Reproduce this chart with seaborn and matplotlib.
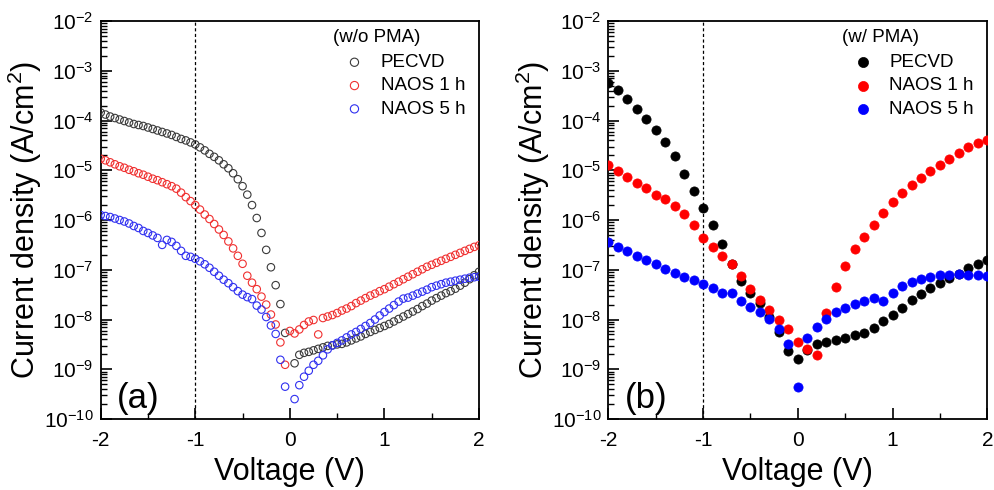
import numpy as np
import pandas as pd
import matplotlib
matplotlib.use("Agg")
import matplotlib.pyplot as plt
from matplotlib.ticker import LogLocator, LogFormatterSciNotation, MultipleLocator, NullFormatter
import seaborn as sns

# ---- data (a): w/o PMA, log10 of current density ----
v_a = [-2.00, -1.95, -1.90, -1.85, -1.80, -1.75, -1.70, -1.65, -1.60, -1.55,
       -1.50, -1.45, -1.40, -1.35, -1.30, -1.25, -1.20, -1.15, -1.10, -1.05,
       -1.00, -0.95, -0.90, -0.85, -0.80, -0.75, -0.70, -0.65, -0.60, -0.55,
       -0.50, -0.45, -0.40, -0.35, -0.30, -0.25, -0.20, -0.15, -0.10, -0.05,
       0.00, 0.05, 0.10, 0.15, 0.20, 0.25, 0.30, 0.35, 0.40, 0.45,
       0.50, 0.55, 0.60, 0.65, 0.70, 0.75, 0.80, 0.85, 0.90, 0.95,
       1.00, 1.05, 1.10, 1.15, 1.20, 1.25, 1.30, 1.35, 1.40, 1.45,
       1.50, 1.55, 1.60, 1.65, 1.70, 1.75, 1.80, 1.85, 1.90, 1.95, 2.00]

pecvd_a = [-3.84, -3.88, -3.92, -3.95, -3.98, -4.01, -4.04, -4.07, -4.09, -4.11,
           -4.14, -4.17, -4.20, -4.23, -4.26, -4.29, -4.33, -4.37, -4.40, -4.44,
           -4.48, -4.54, -4.60, -4.67, -4.73, -4.80, -4.88, -4.96, -5.06, -5.18,
           -5.32, -5.49, -5.70, -5.96, -6.26, -6.60, -6.95, -7.31, -7.69, -8.27,
           np.nan, -8.88, -8.71, -8.67, -8.65, -8.62, -8.59, -8.56, -8.53, -8.52,
           -8.50, -8.49, -8.46, -8.42, -8.38, -8.34, -8.29, -8.25, -8.21, -8.17,
           -8.13, -8.09, -8.04, -7.99, -7.94, -7.89, -7.84, -7.79, -7.73, -7.68,
           -7.62, -7.57, -7.52, -7.47, -7.43, -7.38, -7.32, -7.26, -7.19, -7.11, -7.04]

naos1_a = [-4.77, -4.80, -4.84, -4.88, -4.92, -4.95, -4.99, -5.02, -5.06, -5.09,
           -5.13, -5.17, -5.20, -5.24, -5.28, -5.32, -5.37, -5.45, -5.54, -5.62,
           -5.70, -5.79, -5.89, -5.98, -6.08, -6.19, -6.30, -6.43, -6.57, -6.72,
           -6.88, -7.12, -7.26, -7.39, -7.54, -7.70, -7.90, -8.10, -8.46, -8.91,
           -8.23, -8.28, -8.20, -8.11, -8.04, -8.01, -8.30, -7.97, -7.94, -7.91,
           -7.87, -7.82, -7.78, -7.73, -7.67, -7.62, -7.57, -7.52, -7.48, -7.43,
           -7.39, -7.34, -7.29, -7.24, -7.19, -7.14, -7.09, -7.04, -6.99, -6.94,
           -6.90, -6.86, -6.82, -6.78, -6.74, -6.70, -6.66, -6.62, -6.58, -6.54, -6.51]

naos5_a = [-5.90, -5.92, -5.94, -5.97, -6.00, -6.03, -6.07, -6.12, -6.16, -6.22,
           -6.26, -6.31, -6.36, -6.50, -6.40, -6.44, -6.52, -6.62, -6.72, -6.74,
           -6.78, -6.83, -6.89, -6.96, -7.04, -7.12, -7.20, -7.27, -7.35, -7.43,
           -7.50, -7.55, -7.59, -7.72, -7.80, -7.95, -8.12, -8.29, -8.81, -9.35,
           np.nan, -9.60, -9.32, -9.15, -9.03, -8.91, -8.83, -8.72, -8.60, -8.52,
           -8.47, -8.42, -8.36, -8.30, -8.25, -8.19, -8.13, -8.07, -8.00, -7.92,
           -7.85, -7.78, -7.71, -7.64, -7.58, -7.56, -7.52, -7.48, -7.44, -7.40,
           -7.35, -7.32, -7.29, -7.26, -7.24, -7.22, -7.20, -7.18, -7.16, -7.15, -7.14]

# ---- data (b): w/ PMA ----
v_b = [-2.0, -1.9, -1.8, -1.7, -1.6, -1.5, -1.4, -1.3, -1.2, -1.1,
       -1.0, -0.9, -0.8, -0.7, -0.6, -0.5, -0.4, -0.3, -0.2, -0.1,
       0.0, 0.1, 0.2, 0.3, 0.4, 0.5, 0.6, 0.7, 0.8, 0.9,
       1.0, 1.1, 1.2, 1.3, 1.4, 1.5, 1.6, 1.7, 1.8, 1.9, 2.0]

pecvd_b = [-3.25, -3.39, -3.57, -3.76, -3.97, -4.19, -4.44, -4.72, -5.08, -5.42,
           -5.76, -6.11, -6.48, -6.88, -7.23, -7.47, -7.66, -7.95, -8.25, -8.64,
           -8.80, -8.62, -8.49, -8.45, -8.41, -8.38, -8.32, -8.27, -8.17, -8.04,
           -7.91, -7.76, -7.61, -7.48, -7.36, -7.26, -7.17, -7.08, -6.96, -6.88, -6.81]

naos1_b = [-4.90, -5.01, -5.14, -5.25, -5.36, -5.49, -5.58, -5.71, -5.87, -6.11,
           -6.36, -6.55, -6.72, -6.89, -7.13, -7.39, -7.60, -7.81, -8.00, -8.20,
           -8.45, -8.60, -8.71, -7.86, -7.35, -6.92, -6.59, -6.35, -6.10, -5.85,
           -5.64, -5.45, -5.29, -5.15, -5.02, -4.90, -4.78, -4.66, -4.54, -4.46, -4.39]

naos5_b = [-6.45, -6.54, -6.63, -6.72, -6.80, -6.88, -6.98, -7.06, -7.14, -7.21,
           -7.29, -7.37, -7.46, -7.46, -7.62, -7.74, -7.85, -7.98, -8.19, -8.49,
           -9.36, -8.38, -8.15, -7.98, -7.85, -7.76, -7.68, -7.62, -7.57, -7.63,
           -7.46, -7.32, -7.24, -7.19, -7.14, -7.11, -7.11, -7.08, -7.11, -7.11, -7.13]

samples = ["PECVD", "NAOS 1 h", "NAOS 5 h"]
colors_a = ["#3a3a3a", "#f03030", "#3030f0"]
colors_b = ["#000000", "#ff0000", "#0000ff"]


def make_df(v, series):
    rows = []
    for name, logj in zip(samples, series):
        rows.append(pd.DataFrame({"V": v, "J": 10.0 ** np.array(logj, dtype=float), "sample": name}))
    return pd.concat(rows, ignore_index=True)


df_a = make_df(v_a, [pecvd_a, naos1_a, naos5_a])
df_b = make_df(v_b, [pecvd_b, naos1_b, naos5_b])

sns.set_style("ticks")
plt.rcParams['font.family'] = ['Liberation Sans', 'DejaVu Sans']
plt.rcParams['mathtext.fontset'] = 'custom'
plt.rcParams['mathtext.rm'] = 'Liberation Sans'
plt.rcParams['mathtext.it'] = 'Liberation Sans:italic'
plt.rcParams['mathtext.default'] = 'regular'
plt.rcParams['axes.unicode_minus'] = False
for key in ["text.color", "axes.labelcolor", "xtick.color", "ytick.color", "axes.edgecolor"]:
    plt.rcParams[key] = "black"

fig = plt.figure(figsize=(9.94, 4.9), dpi=100)
ax_a = fig.add_axes([0.1013, 0.1449, 0.3806, 0.8122])
ax_b = fig.add_axes([0.6120, 0.1449, 0.3813, 0.8122])

# (a) open circles
for name, col in zip(samples, colors_a):
    sub = df_a[df_a["sample"] == name]
    sns.scatterplot(data=sub, x="V", y="J", ax=ax_a, marker="o", s=29,
                    color=col, facecolor="none", edgecolor=col, linewidth=0.8,
                    label=name, zorder=3)

# (b) filled circles
for name, col in zip(samples, colors_b):
    sub = df_b[df_b["sample"] == name]
    sns.scatterplot(data=sub, x="V", y="J", ax=ax_b, marker="o", s=44,
                    color=col, edgecolor=col, linewidth=0.5,
                    label=name, zorder=3)


def style_axes(ax, panel, title, title_x, leg_x):
    ax.set_yscale("log")
    ax.set_xlim(-2, 2)
    ax.set_ylim(1e-10, 1e-2)
    ax.xaxis.set_major_locator(MultipleLocator(1))
    ax.xaxis.set_minor_locator(MultipleLocator(0.5))
    ax.yaxis.set_major_locator(LogLocator(base=10, numticks=20))
    ax.yaxis.set_major_formatter(LogFormatterSciNotation())
    ax.yaxis.set_minor_locator(LogLocator(base=10, subs=np.arange(2, 10), numticks=20))
    ax.yaxis.set_minor_formatter(NullFormatter())
    ax.tick_params(which="major", direction="in", length=8, width=1.2,
                   labelsize=15, top=False, right=False)
    ax.tick_params(axis="x", which="major", pad=9)
    ax.tick_params(axis="y", which="major", pad=5)
    ax.tick_params(which="minor", direction="in", length=4, width=1.0,
                   top=False, right=False)
    for sp in ax.spines.values():
        sp.set_linewidth(1.3)
        sp.set_color("black")
    ax.axvline(-1, color="black", lw=0.9, ls=(0, (2.5, 2)), zorder=1)
    ax.set_xlabel("Voltage (V)", fontsize=22, labelpad=5)
    ax.set_ylabel("Current density (A/cm$^2$)", fontsize=22, labelpad=0)
    ax.text(0.043, 0.028, panel, transform=ax.transAxes, fontsize=25, va="baseline")
    ax.text(title_x, 0.958, title, transform=ax.transAxes, fontsize=13.5, va="center")
    ax.legend(loc="upper left", bbox_to_anchor=(leg_x, 0.917), frameon=False,
              fontsize=13.5, handlelength=1.0, handletextpad=0.9, labelspacing=0.33,
              borderaxespad=0, borderpad=0, markerscale=1.1)


style_axes(ax_a, "(a)", "(w/o PMA)", 0.613, 0.646)
style_axes(ax_b, "(b)", "(w/ PMA)", 0.617, 0.647)

fig.savefig("out.png", dpi=100)
